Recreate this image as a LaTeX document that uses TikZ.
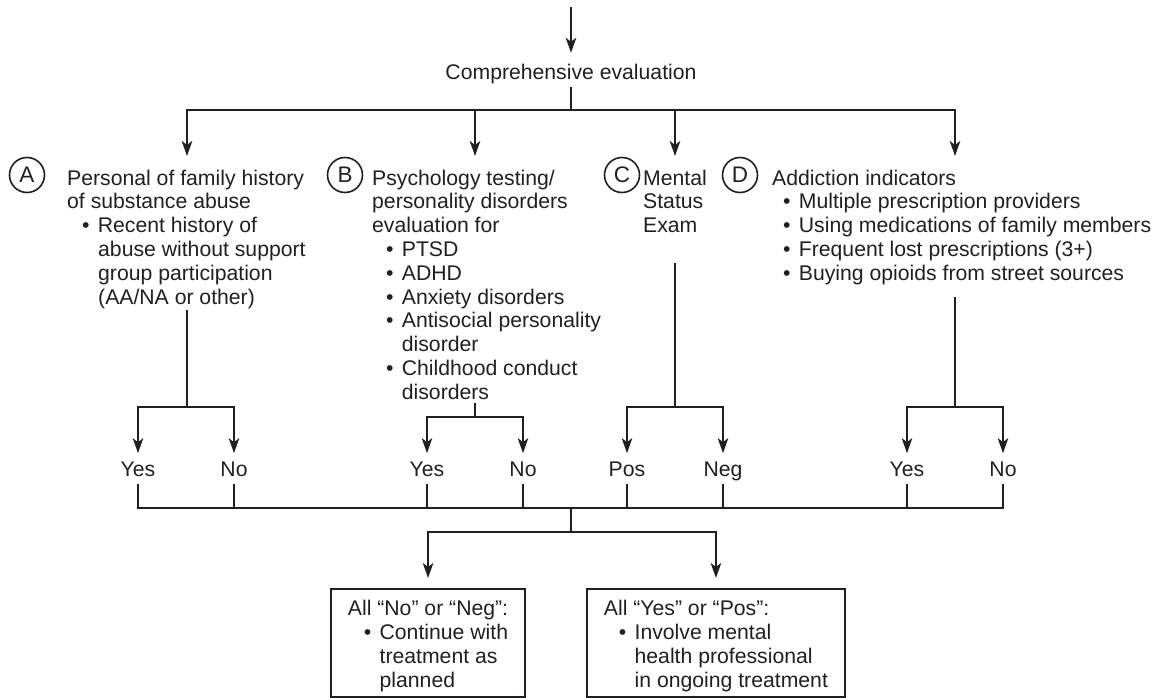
\documentclass[tikz,border=0pt]{standalone}
\usepackage{fontspec}
\setmainfont{Liberation Sans}
\usetikzlibrary{arrows.meta}
\definecolor{ink}{HTML}{231F20}
% bullet with a fixed advance so wrapped lines line up under the text
\newcommand{\bul}{\makebox[15.7pt][l]{•}}
\begin{document}
\begin{tikzpicture}[x=1pt,y=-1pt,
  every node/.style={inner sep=0pt, text=ink, font=\fontsize{21.2pt}{23.8pt}\selectfont},
  line/.style={draw=ink, line width=1.9pt},
  arr/.style={line, -{Stealth[length=15pt,width=10.5pt,inset=4pt]}},
  % multi-line blocks are placed by the baseline of their last line
  block/.style={align=left, anchor=base west},
  badge/.style={circle, draw=ink, line width=1.6pt, minimum size=35pt,
                font=\fontsize{22.5pt}{24pt}\selectfont},
  lab/.style={anchor=base, text height=23.2pt, text depth=7.5pt},
  outcome/.style={draw=ink, line width=1.9pt, align=left, anchor=north west,
                  inner xsep=17pt, inner ysep=0pt}
]
\useasboundingbox (0,0) rectangle (1164,698);

% entry and comprehensive evaluation
\coordinate (in) at (571,7);
\node[anchor=base, text height=26.5pt, text depth=7.5pt] (eval) at (571,79.5) {Comprehensive evaluation};
\coordinate (bar) at (571,110);
\draw[arr] (in) -- (eval);
\draw[line] (eval) -- (bar);

% four evaluation areas
\node[badge] (cA) at (27,175) {A};
\node[block] (tA) at (67,304) {Personal of family history\\
of substance abuse\\
\hspace*{15pt}\bul Recent history of\\
\hspace*{31pt}abuse without support\\
\hspace*{31pt}group participation\\
\hspace*{31pt}(AA/NA or other)};

\node[badge] (cB) at (345,175) {B};
\node[block] (tB) at (372,399.2) {Psychology testing/\\
personality disorders\\
evaluation for\\
\hspace*{14pt}\bul PTSD\\
\hspace*{14pt}\bul ADHD\\
\hspace*{14pt}\bul Anxiety disorders\\
\hspace*{14pt}\bul Antisocial personality\\
\hspace*{29.7pt}disorder\\
\hspace*{14pt}\bul Childhood conduct\\
\hspace*{29.7pt}disorders};

\node[badge] (cC) at (622,175) {C};
\node[block] (tC) at (643,232.6) {Mental\\Status\\Exam};

\node[badge] (cD) at (740,175) {D};
\node[block] (tD) at (772,280.2) {Addiction indicators\\
\hspace*{11pt}\bul Multiple prescription providers\\
\hspace*{11pt}\bul Using medications of family members\\
\hspace*{11pt}\bul Frequent lost prescriptions (3+)\\
\hspace*{11pt}\bul Buying opioids from street sources};

\coordinate (tipA) at (187,156);
\coordinate (tipB) at (475,156);
\coordinate (tipC) at (675,156);
\coordinate (tipD) at (955,156);
\draw[arr] (bar) -| (tipA);
\draw[arr] (bar) -| (tipB);
\draw[arr] (bar) -| (tipC);
\draw[arr] (bar) -| (tipD);

% answers
\node[lab] (yA) at (138,476.6) {Yes};
\node[lab] (nA) at (234,476.6) {No};
\node[lab] (yB) at (427,476.6) {Yes};
\node[lab] (nB) at (523,476.6) {No};
\node[lab] (pC) at (627,476.6) {Pos};
\node[lab] (nC) at (723,476.6) {Neg};
\node[lab] (yD) at (907,476.6) {Yes};
\node[lab] (nD) at (1003,476.6) {No};

\coordinate (oA) at (187,310);  \coordinate (sA) at (187,407);
\coordinate (oB) at (475,403);  \coordinate (sB) at (475,417);
\coordinate (oC) at (675,263);  \coordinate (sC) at (675,407);
\coordinate (oD) at (955,297);  \coordinate (sD) at (955,407);
\draw[line] (oA) -- (sA);
\draw[line] (oB) -- (sB);
\draw[line] (oC) -- (sC);
\draw[line] (oD) -- (sD);
\draw[arr] (sA) -| (yA);  \draw[arr] (sA) -| (nA);
\draw[arr] (sB) -| (yB);  \draw[arr] (sB) -| (nB);
\draw[arr] (sC) -| (pC);  \draw[arr] (sC) -| (nC);
\draw[arr] (sD) -| (yD);  \draw[arr] (sD) -| (nD);

% collecting bar
\coordinate (bot) at (571,508);
\foreach \n in {yA,nA,yB,nB,pC,nC,yD,nD}
  \draw[line] (\n.south) |- (bot);

% outcomes
\node[outcome] (boxNo) at (330,588) {\rule{0pt}{27pt}All “No” or “Neg”:\\
\hspace*{16pt}\bul Continue with\\
\hspace*{31.7pt}treatment as\\
\hspace*{31.7pt}planned\rule[-10pt]{0pt}{10pt}};
\node[outcome] (boxYes) at (586,588) {\rule{0pt}{27pt}All “Yes” or “Pos”:\\
\hspace*{15pt}\bul Involve mental\\
\hspace*{30.7pt}health professional\\
\hspace*{30.7pt}in ongoing treatment\rule[-10pt]{0pt}{10pt}};

\coordinate (split) at (571,532);
\draw[line] (bot) -- (split);
\draw[arr] (split) -| ([yshift=10pt]boxNo.north);
\draw[arr] (split) -| ([yshift=10pt]boxYes.north);
\end{tikzpicture}
\end{document}
